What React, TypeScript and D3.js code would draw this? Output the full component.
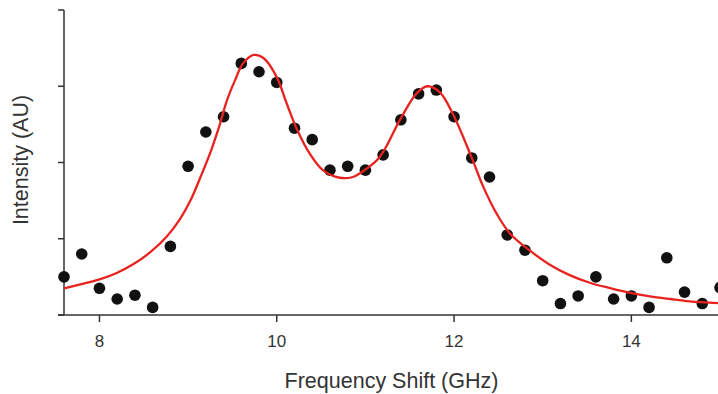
import React from "react";
import * as d3 from "d3";

const freqs = [7.6, 7.8, 8.0, 8.2, 8.4, 8.6, 8.8, 9.0, 9.2, 9.4, 9.6, 9.8, 10.0, 10.2, 10.4, 10.6, 10.8, 11.0, 11.2, 11.4, 11.6, 11.8, 12.0, 12.2, 12.4, 12.6, 12.8, 13.0, 13.2, 13.4, 13.6, 13.8, 14.0, 14.2, 14.4, 14.6, 14.8, 15.0];
const intensities = [0.5, 0.8, 0.35, 0.21, 0.26, 0.1, 0.9, 1.95, 2.4, 2.6, 3.3, 3.19, 3.05, 2.45, 2.3, 1.9, 1.95, 1.9, 2.1, 2.56, 2.9, 2.95, 2.6, 2.06, 1.81, 1.05, 0.85, 0.45, 0.15, 0.25, 0.5, 0.21, 0.25, 0.1, 0.75, 0.3, 0.15, 0.36];

const fitFreqs = [7.6, 8.01, 8.2, 8.38, 8.57, 8.76, 8.91, 9.03, 9.14, 9.26, 9.35, 9.44, 9.53, 9.62, 9.74, 9.85, 10.0, 10.11, 10.23, 10.37, 10.52, 10.71, 10.86, 10.94, 11.16, 11.39, 11.58, 11.7, 11.84, 11.99, 12.2, 12.33, 12.48, 12.63, 12.86, 13.08, 13.31, 13.54, 13.77, 13.99, 14.21, 14.44, 14.66, 15.0];
const fitValues = [0.35, 0.47, 0.555, 0.665, 0.82, 1.03, 1.26, 1.51, 1.81, 2.16, 2.47, 2.82, 3.08, 3.3, 3.41, 3.37, 3.12, 2.78, 2.43, 2.12, 1.9, 1.8, 1.81, 1.86, 2.07, 2.56, 2.91, 3.0, 2.92, 2.63, 2.06, 1.68, 1.33, 1.07, 0.84, 0.66, 0.52, 0.42, 0.35, 0.29, 0.245, 0.21, 0.18, 0.155];

const xTicks = [8, 10, 12, 14];
const yTicks = [0, 1, 2, 3, 4];
const xTitle = "Frequency Shift (GHz)";
const yTitle = "Intensity (AU)";

export default function App() {
  const W = 718, H = 394;
  const x = d3.scaleLinear().domain([7.6, 15]).range([64, 720]);
  const y = d3.scaleLinear().domain([0, 4]).range([315, 10]);
  const line = d3
    .line<number>()
    .x((_, i) => x(fitFreqs[i]))
    .y((d) => y(d))
    .curve(d3.curveCatmullRom.alpha(0.5));
  const axisColor = "#333";
  const font = "Liberation Sans, Arial, sans-serif";
  return (
    <svg width={W} height={H} style={{ position: "absolute", left: 0, top: 0, background: "#fff" }}>
      <line x1={x(7.6)} x2={x(7.6)} y1={y(4)} y2={y(0)} stroke={axisColor} strokeWidth={1.5} />
      {yTicks.map((t) => (
        <line key={t} x1={x(7.6) - 6} x2={x(7.6)} y1={y(t)} y2={y(t)} stroke={axisColor} strokeWidth={1.5} />
      ))}
      <line x1={x(7.6) - 6} x2={W} y1={y(0)} y2={y(0)} stroke={axisColor} strokeWidth={1.5} />
      {xTicks.map((t) => (
        <g key={t}>
          <line x1={x(t)} x2={x(t)} y1={y(0)} y2={y(0) + 7} stroke={axisColor} strokeWidth={1.5} />
          <text x={x(t)} y={347} textAnchor="middle" fontSize={17} fontFamily={font} fill="#333">
            {t}
          </text>
        </g>
      ))}
      <text x={391.5} y={388} textAnchor="middle" fontSize={21.5} fontFamily={font} fill="#333">
        {xTitle}
      </text>
      <text
        transform={`translate(28,160) rotate(-90)`}
        textAnchor="middle"
        fontSize={21.5}
        fontFamily={font}
        fill="#333"
      >
        {yTitle}
      </text>
      {freqs.map((f, i) => (
        <circle key={i} cx={x(f)} cy={y(intensities[i])} r={5.8} fill="#111" />
      ))}
      <path d={line(fitValues) || ""} fill="none" stroke="#e8231f" strokeWidth={2.3} />
    </svg>
  );
}
